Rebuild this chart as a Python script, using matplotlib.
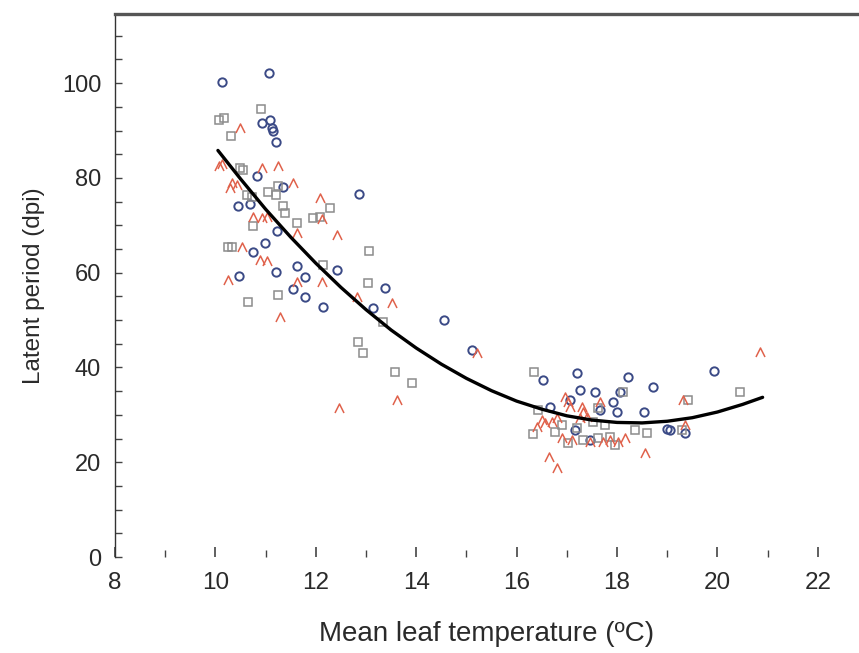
import numpy as np
import matplotlib
matplotlib.use("Agg")
from matplotlib import pyplot as plt
from matplotlib.path import Path
from matplotlib.ticker import MultipleLocator

plt.rcParams['font.family'] = ['Liberation Sans', 'DejaVu Sans']

# blue circles
circle_x = [10.13, 11.07, 10.93, 11.09, 11.13, 11.15, 11.21, 10.82, 11.35, 10.45,
            10.69, 11.23, 10.99, 10.75, 11.21, 11.63, 12.42, 10.47, 11.78, 11.55,
            11.78, 12.14, 12.86, 13.38, 13.14, 14.55, 15.11, 16.53, 17.20, 17.26,
            17.56, 18.22, 18.72, 18.06, 17.92, 18.00, 18.54, 19.00, 19.06, 19.35,
            19.93, 16.67, 17.06, 17.66, 17.46, 17.16]
circle_y = [100.2, 102.1, 91.6, 92.2, 90.5, 89.9, 87.6, 80.4, 78.1, 74.1,
            74.5, 68.8, 66.2, 64.3, 60.1, 61.4, 60.5, 59.3, 59.1, 56.5,
            54.9, 52.7, 76.6, 56.8, 52.5, 50.0, 43.7, 37.3, 38.8, 35.2,
            34.8, 38.0, 35.9, 34.8, 32.7, 30.6, 30.6, 27.0, 26.8, 26.2,
            39.2, 31.6, 33.1, 31.0, 24.7, 26.8]

# grey squares
square_x = [10.07, 10.17, 10.91, 10.31, 10.49, 10.55, 11.25, 10.63, 10.73, 11.05,
            11.21, 11.35, 11.39, 11.63, 11.94, 12.08, 12.28, 10.75, 10.25, 10.33,
            12.14, 11.25, 10.65, 13.06, 13.04, 13.34, 12.84, 12.94, 13.58, 13.92,
            16.35, 16.43, 16.33, 16.90, 17.20, 17.52, 17.62, 17.02, 17.32, 17.62,
            17.86, 17.96, 18.12, 18.36, 18.60, 19.30, 19.41, 20.45, 16.76, 17.76]
square_y = [92.2, 92.6, 94.5, 88.8, 82.1, 81.6, 78.3, 76.4, 75.9, 77.0,
            76.4, 74.1, 72.6, 70.5, 71.5, 71.7, 73.6, 69.8, 65.4, 65.4,
            61.6, 55.3, 53.8, 64.6, 57.8, 49.6, 45.4, 43.0, 39.0, 36.7,
            39.0, 31.0, 25.9, 27.8, 27.2, 28.5, 31.4, 24.1, 24.7, 25.1,
            25.3, 23.6, 34.8, 26.8, 26.2, 26.8, 33.1, 34.8, 26.4, 27.8]

# red carets
caret_x = [10.49, 10.07, 10.13, 10.93, 11.25, 10.33, 10.43, 10.29, 11.55, 10.75,
           10.93, 11.03, 12.08, 12.12, 11.63, 12.42, 10.53, 10.89, 11.03, 10.25,
           11.63, 12.12, 11.29, 12.82, 13.52, 13.62, 12.46, 15.21, 16.96, 17.02,
           17.06, 17.30, 17.32, 17.40, 17.66, 16.51, 16.57, 16.41, 16.71, 16.80,
           16.90, 17.10, 17.46, 17.72, 17.86, 18.02, 18.16, 16.65, 16.80, 19.31,
           19.35, 18.56, 20.85, 17.26]
caret_y = [90.5, 82.5, 82.9, 82.1, 82.5, 78.9, 78.5, 77.8, 78.9, 71.7,
           71.5, 71.7, 75.7, 71.3, 68.4, 68.0, 65.4, 62.7, 62.4, 58.4,
           58.0, 58.0, 50.6, 54.9, 53.6, 33.1, 31.4, 43.0, 33.8, 32.7,
           31.6, 31.6, 30.6, 29.5, 32.7, 28.9, 28.3, 27.4, 28.5, 29.3,
           25.1, 24.7, 24.3, 24.3, 24.7, 24.3, 25.1, 21.1, 18.8, 33.1,
           27.8, 21.9, 43.2, 29.3]

# fitted curve
fit_x = [10.05, 10.5, 11.0, 11.5, 12.0, 12.5, 13.0, 13.5, 14.0, 14.5, 15.0, 15.5,
         16.0, 16.5, 17.0, 17.5, 18.0, 18.5, 19.0, 19.5, 20.0, 20.5, 20.9]
fit_y = [85.8, 79.8, 73.4, 67.5, 62.0, 56.9, 52.2, 47.9, 44.1, 40.7, 37.7, 35.1,
         32.9, 31.2, 29.8, 28.9, 28.4, 28.3, 28.65, 29.4, 30.6, 32.2, 33.7]

caret = Path([(-1, -1), (0, 1), (1, -1)], [Path.MOVETO, Path.LINETO, Path.LINETO])

fig = plt.figure(figsize=(8.59, 6.53), dpi=100)
ax = fig.add_axes([0.1339, 0.147, 0.8661, 0.8316])

ax.plot(circle_x, circle_y, 'o', ms=6, mfc='none', mec='#3b4a86', mew=1.4, ls='none')
ax.plot(square_x, square_y, 's', ms=6, mfc='none', mec='#8c8c8c', mew=1.1, ls='none')
ax.plot(caret_x, caret_y, marker=caret, ms=6.5, mfc='none', mec='#e0624c', mew=1.1, ls='none')
ax.plot(fit_x, fit_y, color='black', lw=2.4, solid_capstyle='round')

ax.set_xlim(8, 22.82)
ax.set_ylim(0, 114.6)

ax.spines['right'].set_visible(False)
ax.spines['bottom'].set_visible(False)
ax.spines['top'].set_color('#555555')
ax.spines['top'].set_linewidth(2.4)
ax.spines['left'].set_color('#333333')
ax.spines['left'].set_linewidth(1.0)

ax.xaxis.set_major_locator(MultipleLocator(2))
ax.xaxis.set_minor_locator(MultipleLocator(1))
ax.yaxis.set_major_locator(MultipleLocator(20))
ax.yaxis.set_minor_locator(MultipleLocator(5))
ax.tick_params(axis='x', which='both', direction='in', top=False, color='#444444',
               labelsize=17.5, labelcolor='#2a2a2a', pad=11)
ax.tick_params(axis='x', which='major', length=7, width=1.2)
ax.tick_params(axis='x', which='minor', length=5, width=1.0)
ax.tick_params(axis='y', which='both', direction='in', right=False, color='#444444',
               length=5, width=1.0, labelsize=17, labelcolor='#2a2a2a', pad=10)

ax.set_xlabel('Mean leaf temperature (ºC)', fontsize=20, color='#2a2a2a', labelpad=19)
ax.set_ylabel('Latent period (dpi)', fontsize=17.5, color='#2a2a2a', labelpad=12)

fig.savefig('out.png', dpi=100)
